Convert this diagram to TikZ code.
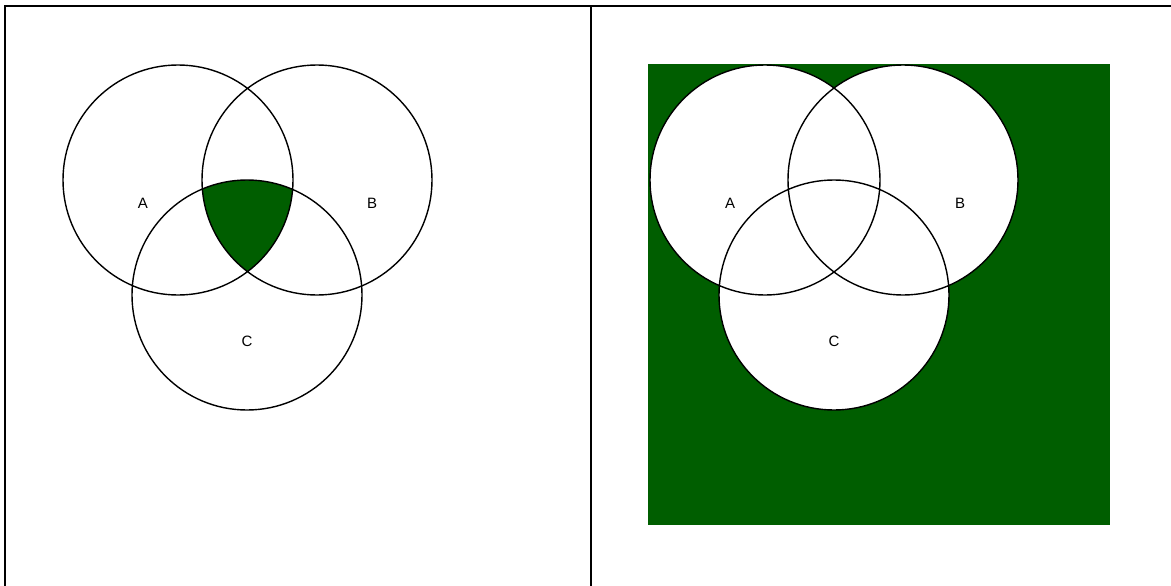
\documentclass[tikz,border=0pt]{standalone}
\usepackage{fontspec}
\setmainfont{Liberation Sans}
\usetikzlibrary{positioning}
\definecolor{setgreen}{RGB}{0,94,0}

\begin{document}
\begin{tikzpicture}[x=1pt,y=-1pt,
  ring/.style={draw=black,line width=1.4pt},
  rule/.style={draw=black,line width=2.2pt},
  setlabel/.style={font=\fontsize{15}{17}\selectfont}]
\useasboundingbox (0,0) rectangle (1171,586);
% table frame
\coordinate (tl) at (5,6);
\coordinate (tr) at (1171,6);
\coordinate (bl) at (5,586);
\coordinate (mt) at (591,6);
\coordinate (mb) at (591,586);
\draw[rule] (bl)--(tl)--(tr);
\draw[rule] (mt)--(mb);
% left: A and B and C
\coordinate (a1) at (178,180);
\coordinate (b1) at (317,180);
\coordinate (c1) at (247,295);
\begin{scope}
\clip (a1) circle (115);
\clip (b1) circle (115);
\fill[setgreen] (c1) circle (115);
\end{scope}
\draw[ring] (a1) circle (115) (b1) circle (115) (c1) circle (115);
\node[setlabel] (la1) at (143,203) {A};
\node[setlabel] (lb1) at (372,203) {B};
\node[setlabel] (lc1) at (247,341) {C};
% right: complement of A or B or C
\coordinate (a2) at (765,180);
\coordinate (b2) at (903,180);
\coordinate (c2) at (834,295);
\fill[setgreen] (648,64) rectangle (1110,525);
\fill[white] (a2) circle (115) (b2) circle (115) (c2) circle (115);
\draw[ring] (a2) circle (115) (b2) circle (115) (c2) circle (115);
\node[setlabel] (la2) at (730,203) {A};
\node[setlabel] (lb2) at (960,203) {B};
\node[setlabel] (lc2) at (834,341) {C};
\end{tikzpicture}
\end{document}
